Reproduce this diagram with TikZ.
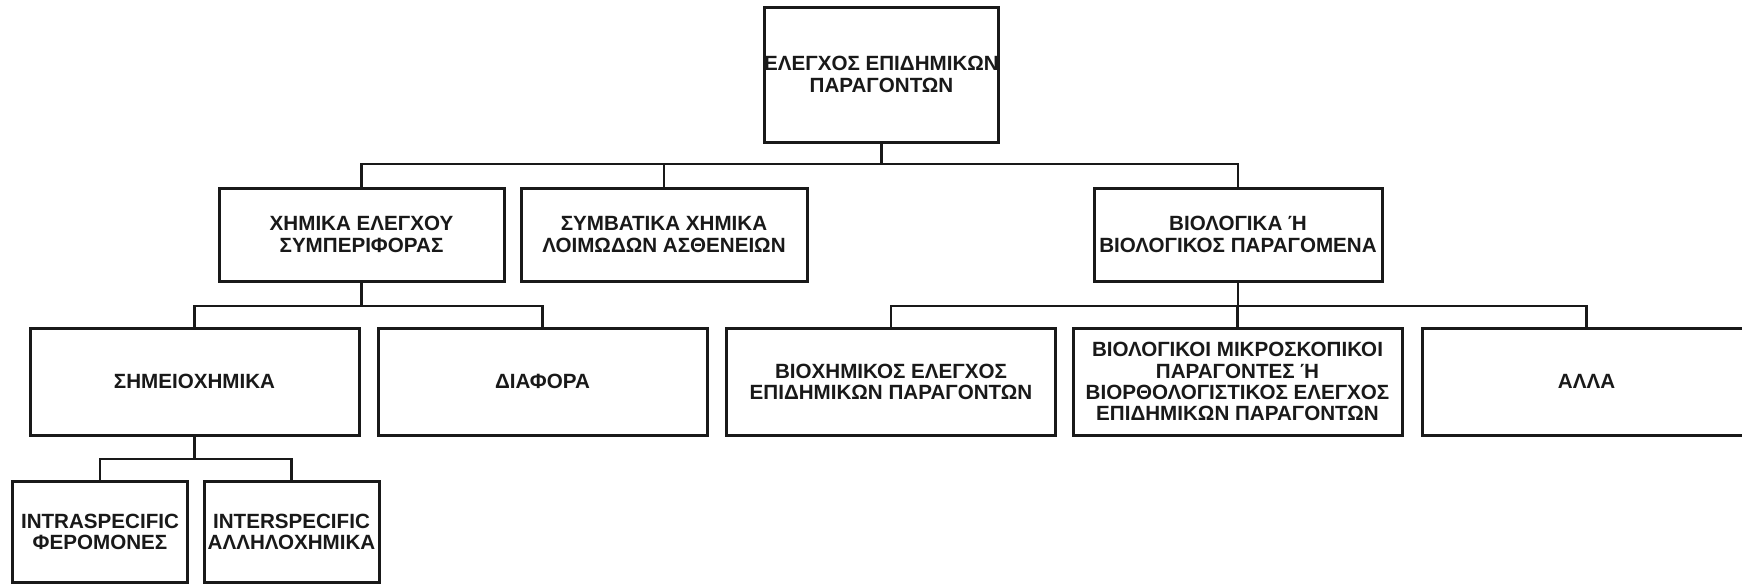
\documentclass[tikz,border=0pt]{standalone}
\usepackage{fontspec}
\setmainfont{Liberation Sans}
\begin{document}
\begin{tikzpicture}[x=0.5pt,y=-0.5pt,
  box/.style={draw=black!90, line width=1.5pt, rectangle, inner sep=0pt, align=center,
    font=\fontsize{10.3}{10.6}\selectfont\bfseries, text=black!90},
  lev2/.style={box, minimum height=46.5pt},
  lev3/.style={box, minimum height=53.5pt, minimum width=164.5pt},
  lev4/.style={box, minimum height=50.5pt, minimum width=87.5pt},
  conn/.style={draw=black!90, line width=1.2pt}]
\useasboundingbox (0,0) rectangle (1742,585);
\clip (0,0) rectangle (1742,585);
\fill[white] (0,0) rectangle (1742,585);
% nodes
\node[box, minimum width=115.5pt, minimum height=67.5pt] (top) at (881.5,74.5)
  {ΕΛΕΓΧΟΣ ΕΠΙΔΗΜΙΚΩΝ\\ΠΑΡΑΓΟΝΤΩΝ};
\node[lev2, minimum width=142.5pt] (b1) at (361.5,234.5) {ΧΗΜΙΚΑ ΕΛΕΓΧΟΥ\\ΣΥΜΠΕΡΙΦΟΡΑΣ};
\node[lev2, minimum width=143pt] (b2) at (664,234.5) {ΣΥΜΒΑΤΙΚΑ ΧΗΜΙΚΑ\\ΛΟΙΜΩΔΩΝ ΑΣΘΕΝΕΙΩΝ};
\node[lev2, minimum width=144pt] (b3) at (1238,234.5) {ΒΙΟΛΟΓΙΚΑ Ή\\ΒΙΟΛΟΓΙΚΟΣ ΠΑΡΑΓΟΜΕΝΑ};
\node[lev3] (c1) at (194.5,381.5) {ΣΗΜΕΙΟΧΗΜΙΚΑ};
\node[lev3] (c2) at (542.5,381.5) {ΔΙΑΦΟΡΑ};
\node[lev3] (c3) at (891,381.5) {ΒΙΟΧΗΜΙΚΟΣ ΕΛΕΓΧΟΣ\\ΕΠΙΔΗΜΙΚΩΝ ΠΑΡΑΓΟΝΤΩΝ};
\node[lev3] (c4) at (1237.5,381.5) {ΒΙΟΛΟΓΙΚΟΙ ΜΙΚΡΟΣΚΟΠΙΚΟΙ\\ΠΑΡΑΓΟΝΤΕΣ Ή\\ΒΙΟΡΘΟΛΟΓΙΣΤΙΚΟΣ ΕΛΕΓΧΟΣ\\ΕΠΙΔΗΜΙΚΩΝ ΠΑΡΑΓΟΝΤΩΝ};
\node[lev3] (c5) at (1586.5,381.5) {ΑΛΛΑ};
\node[lev4] (d1) at (100,531.5) {INTRASPECIFIC\\ΦΕΡΟΜΟΝΕΣ};
\node[lev4] (d2) at (291.5,531.5) {INTERSPECIFIC\\ΑΛΛΗΛΟΧΗΜΙΚΑ};
% bus levels
\coordinate (h1) at (0,164);
\coordinate (h2) at (0,306);
\coordinate (h3) at (0,459);
% connectors
\draw[conn] (top.south) -- (top.south |- h1);
\draw[conn] (b1.north) |- (b3.north |- h1) -- (b3.north);
\draw[conn] (b2.north) -- (b2.north |- h1);
\draw[conn] (b1.south) -- (b1.south |- h2);
\draw[conn] (c1.north) |- (c2.north |- h2) -- (c2.north);
\draw[conn] (b3.south) -- (b3.south |- h2);
\draw[conn] (c3.north) |- (c5.north |- h2) -- (c5.north);
\draw[conn] (c4.north) -- (c4.north |- h2);
\draw[conn] (c1.south) -- (c1.south |- h3);
\draw[conn] (d1.north) |- (d2.north |- h3) -- (d2.north);
\end{tikzpicture}
\end{document}
